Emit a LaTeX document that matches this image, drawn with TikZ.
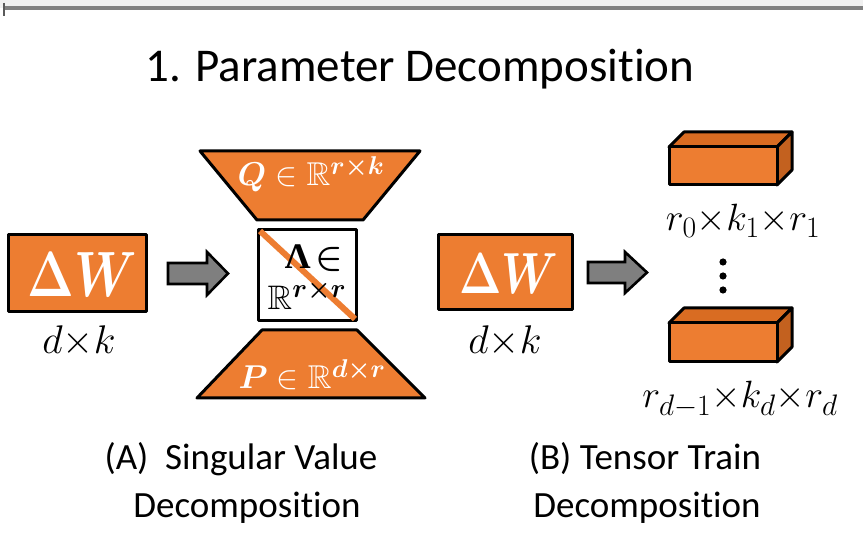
\documentclass[tikz,border=0pt]{standalone}
\usepackage{fix-cm}
\usepackage{amsmath,amssymb,bm}
\usepackage{anyfontsize}
\usepackage[no-math]{fontspec}
\setmainfont{Carlito}[Ligatures=NoCommon]
\newfontfamily\grk{Liberation Serif}
\renewcommand\defaultscriptratio{.78}
\renewcommand\defaultscriptscriptratio{.6}
\definecolor{tborange}{HTML}{ED7D31}
\definecolor{tborangedk}{HTML}{D96C22}
\definecolor{arrgray}{HTML}{7F7F7F}
\definecolor{rulegray}{HTML}{808080}
\newcommand\deltaw{\scalebox{0.78}[1]{$\mathbf{\Delta}\bm{W}$}}
\begin{document}
\begin{tikzpicture}[x=1pt,y=-1pt,
  outline/.style={draw=black,line width=3pt,line join=round},
  orangebox/.style={outline,fill=tborange},
  blockarrow/.style={draw=black,line width=2.6pt,fill=arrgray,line join=miter},
  wlabel/.style={text=white,inner sep=0pt,anchor=base},
  mlabel/.style={text=black,inner sep=0pt,anchor=base},
  caption/.style={inner sep=0pt,anchor=base,font=\fontsize{37}{44}\selectfont},
]
\useasboundingbox (0,0) rectangle (863,534);
\fill[white] (0,0) rectangle (863,534);
\fill[black!6] (0,0) rectangle (863,8);
% frame rule along the top
\draw[rulegray,line width=3.5pt] (4,8) -- (863,8);
\draw[rulegray!70!black,line width=1.5pt] (4,3) -- (4,16);

% title
\node[inner sep=0pt,anchor=base,font=\fontsize{47}{56}\selectfont] (title) at (420,82) {1. Parameter Decomposition};

% ---------- (A) singular value decomposition ----------
\node[orangebox,minimum width=138pt,minimum height=77pt,inner sep=0pt] (dwA) at (77.5,273) {};
\node[wlabel,font=\fontsize{64}{72}\selectfont] (dwAtxt) at (82,297) {\deltaw};
\node[mlabel,font=\fontsize{40}{48}\selectfont] (dkA) at (79,354) {$d{\times}k$};

\path[blockarrow] (168,263) -- (207,263) -- (207,252) -- (228,273.5) -- (207,295) -- (207,284) -- (168,284) -- cycle;

% Q factor (upper trapezoid)
\path[orangebox] (200,151) -- (420,151) -- (363,220) -- (257,220) -- cycle;
\node[wlabel,font=\fontsize{33}{40}\selectfont] (qtxt) at (311,186) {$\bm{Q}\in\mathbb{R}^{\bm{r\times k}}$};

% Lambda (diagonal core)
\node[outline,fill=white,minimum width=98pt,minimum height=91pt,inner sep=0pt] (lam) at (307.5,275) {};
\draw[tborange,line width=6pt] ([shift={(3,3)}]lam.north west) -- ([shift={(-3,-3)}]lam.south east);
\node[mlabel,font=\fontsize{36}{42}\selectfont] (lamtxt) at (314,269) {{\grk\bfseries Λ}\kern5pt$\bm{\in}$};
\node[mlabel,font=\fontsize{34}{40}\selectfont] (lamR) at (307,310) {$\mathbb{R}^{\bm{r\times r}}$};

% P factor (lower trapezoid)
\path[orangebox] (262,330) -- (357,330) -- (425,398) -- (197,398) -- cycle;
\node[wlabel,font=\fontsize{33}{40}\selectfont] (ptxt) at (312,389) {$\bm{P}\in\mathbb{R}^{\bm{d\times r}}$};

\node[caption] (capA1) at (241,470) {(A)\ \ Singular Value};
\node[caption] (capA2) at (247,518) {Decomposition};

% ---------- (B) tensor train decomposition ----------
\node[orangebox,minimum width=134pt,minimum height=75pt,inner sep=0pt] (dwB) at (505.5,272) {};
\node[wlabel,font=\fontsize{58}{66}\selectfont] (dwBtxt) at (509,294) {\deltaw};
\node[mlabel,font=\fontsize{40}{48}\selectfont] (dkB) at (505,354) {$d{\times}k$};

\path[blockarrow] (588,262) -- (625,262) -- (625,252) -- (647,272.5) -- (625,293) -- (625,283) -- (588,283) -- cycle;

% first core
\path[outline,fill=tborangedk] (669,147) -- (684,132) -- (792,132) -- (777,147) -- cycle;
\path[outline,fill=tborangedk!90!black] (777,147) -- (792,132) -- (792,170) -- (777,185) -- cycle;
\path[orangebox] (669,147) rectangle (777,185);
\node[mlabel,font=\fontsize{38}{46}\selectfont] (core1) at (743,231) {$r_0{\times}k_1{\times}r_1$};

% dots between cores
\foreach \yy in {262,276,290} \fill[black] (723,\yy) circle (3.6pt);

% last core
\path[outline,fill=tborangedk] (669,323) -- (684,308) -- (792,308) -- (777,323) -- cycle;
\path[outline,fill=tborangedk!90!black] (777,323) -- (792,308) -- (792,347) -- (777,362) -- cycle;
\path[orangebox] (669,323) rectangle (777,362);
\node[mlabel,font=\fontsize{38}{46}\selectfont] (coreD) at (740,408) {$r_{d-1}{\times}k_d{\times}r_d$};

\node[caption] (capB1) at (645,470) {(B) Tensor Train};
\node[caption] (capB2) at (647,518) {Decomposition};
\end{tikzpicture}
\end{document}
